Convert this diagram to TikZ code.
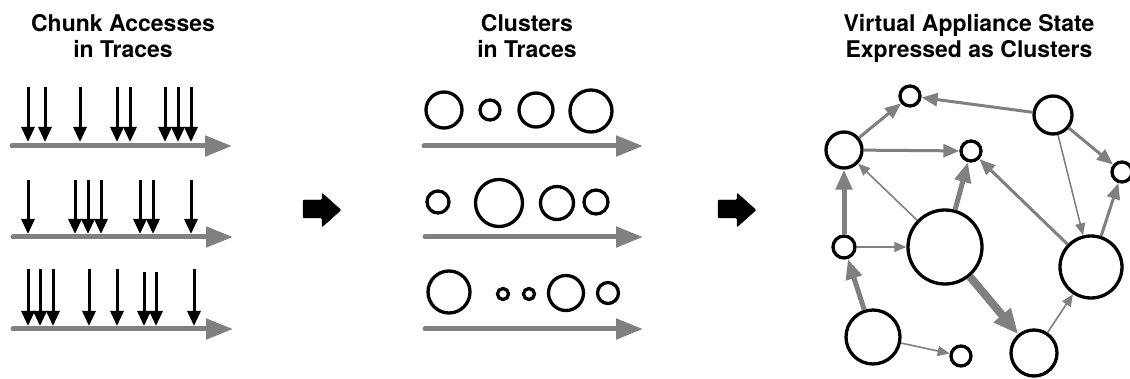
\documentclass[tikz,border=0pt]{standalone}
\usepackage{fontspec}
\setmainfont{TeX Gyre Heros}
\usetikzlibrary{arrows.meta}

\tikzset{
  heading/.style={anchor=north, inner sep=0pt, align=center,
    font=\fontsize{23}{26}\selectfont\bfseries},
  trace/.style={draw=gray, line width=5pt, line cap=round,
    -{Triangle[length=27pt,width=20pt]}},
  access/.style={draw=black, line width=3pt,
    -{Triangle[length=15pt,width=13pt]}},
  cluster/.style={circle, draw=black, line width=3.3pt, inner sep=0pt,
    minimum size=#1},
  edgethin/.style={draw=gray, line width=1.6pt,
    -{Triangle[length=12pt,width=10pt]}},
  edgemid/.style={draw=gray, line width=3pt,
    -{Triangle[length=16pt,width=13pt]}},
  edgethick/.style={draw=gray, line width=5pt,
    -{Triangle[length=20pt,width=16pt]}},
  edgeheavy/.style={draw=gray, line width=8pt,
    -{Triangle[length=25pt,width=21pt]}},
  blockarrow/.style={fill=black, rounded corners=1pt}
}

\begin{document}
\begin{tikzpicture}[x=1pt, y=-1pt]
    \useasboundingbox (0,0) rectangle (1130,379);

    % Headings
    \node (chunkhead) [heading] at (123,14) {Chunk Accesses\\in Traces};
    \node (clusterhead) [heading] at (527,14) {Clusters\\in Traces};
    \node (statehead) [heading] at (969,14) {Virtual Appliance State\\Expressed as Clusters};

    % Drawing trace 1 with chunk accesses
    \coordinate (ta1) at (12,146);
    \coordinate (tb1) at (232,146);
    \draw [trace] (ta1) -- (tb1);
    \draw [access] (28,87) -- (28,142);
    \draw [access] (45,87) -- (45,142);
    \draw [access] (80,87) -- (80,142);
    \draw [access] (117,87) -- (117,142);
    \draw [access] (130,87) -- (130,142);
    \draw [access] (165,87) -- (165,142);
    \draw [access] (178,87) -- (178,142);
    \draw [access] (191,87) -- (191,142);

    % Drawing trace 2 with chunk accesses
    \coordinate (ta2) at (13,237);
    \coordinate (tb2) at (233,237);
    \draw [trace] (ta2) -- (tb2);
    \draw [access] (28,180) -- (28,234);
    \draw [access] (75,180) -- (75,234);
    \draw [access] (88,180) -- (88,234);
    \draw [access] (101,180) -- (101,234);
    \draw [access] (140,180) -- (140,234);
    \draw [access] (153,180) -- (153,234);
    \draw [access] (191,180) -- (191,234);

    % Drawing trace 3 with chunk accesses
    \coordinate (ta3) at (13,329);
    \coordinate (tb3) at (233,329);
    \draw [trace] (ta3) -- (tb3);
    \draw [access] (28,269) -- (28,326);
    \draw [access] (40,269) -- (40,326);
    \draw [access] (53,269) -- (53,326);
    \draw [access] (89,269) -- (89,326);
    \draw [access] (117,269) -- (117,326);
    \draw [access] (144,272) -- (144,326);
    \draw [access] (156,272) -- (156,326);
    \draw [access] (194,269) -- (194,326);

    % Drawing first block arrow
    \draw [blockarrow] (303,200) -- (322,200) -- (322,193) -- (341,210)
        -- (322,227) -- (322,218) -- (303,218) -- cycle;

    % Drawing trace 1 with clusters
    \coordinate (ua1) at (424,146);
    \coordinate (ub1) at (643,146);
    \draw [trace] (ua1) -- (ub1);
    \node (c11) [cluster=36pt] at (444,110) {};
    \node (c12) [cluster=20pt] at (490,110) {};
    \node (c13) [cluster=34pt] at (536,110) {};
    \node (c14) [cluster=42pt] at (591,111) {};

    % Drawing trace 2 with clusters
    \coordinate (ua2) at (425,237);
    \coordinate (ub2) at (643,237);
    \draw [trace] (ua2) -- (ub2);
    \node (c21) [cluster=22pt] at (438,202) {};
    \node (c22) [cluster=47pt] at (499,203) {};
    \node (c23) [cluster=33pt] at (557,203) {};
    \node (c24) [cluster=24pt] at (596,202) {};

    % Drawing trace 3 with clusters
    \coordinate (ua3) at (425,329);
    \coordinate (ub3) at (643,329);
    \draw [trace] (ua3) -- (ub3);
    \node (c31) [cluster=42pt] at (449,292) {};
    \node (c32) [cluster=11pt] at (503,294) {};
    \node (c33) [cluster=11pt] at (529,294) {};
    \node (c34) [cluster=35pt] at (566,293) {};
    \node (c35) [cluster=21pt] at (608,293) {};

    % Drawing second block arrow
    \draw [blockarrow] (718,200) -- (737,200) -- (737,193) -- (756,210)
        -- (737,227) -- (737,218) -- (718,218) -- cycle;

    % Marking the clusters of the state
    \node (sa) [cluster=20pt] at (910,96) {};
    \node (sb) [cluster=38pt] at (1053,115) {};
    \node (sc) [cluster=36pt] at (844,150) {};
    \node (sd) [cluster=20pt] at (971,151) {};
    \node (se) [cluster=20pt] at (1122,172) {};
    \node (sf) [cluster=22pt] at (844,247) {};
    \node (sg) [cluster=74pt] at (945,247) {};
    \node (sh) [cluster=62pt] at (1091,267) {};
    \node (si) [cluster=54pt] at (873,337) {};
    \node (sj) [cluster=20pt] at (961,356) {};
    \node (sk) [cluster=46pt] at (1034,353) {};

    % Drawing the links between clusters
    \draw [edgemid] (sb) -- (sa);
    \draw [edgemid] (sc) -- (sa);
    \draw [edgemid] (sc) -- (sd);
    \draw [edgethin] (sg) -- (sc);
    \draw [edgethick] (sf) -- (sc);
    \draw [edgethin] (sf) -- (sg);
    \draw [edgethick] (sg) -- (sd);
    \draw [edgethick] (si) -- (sf);
    \draw [edgethin] (si) -- (sj);
    \draw [edgeheavy] (sg) -- (sk);
    \draw [edgethin] (sk) -- (sh);
    \draw [edgemid] (sh) -- (sd);
    \draw [edgethin] (sb) -- (sh);
    \draw [edgemid] (sb) -- (se);
    \draw [edgemid] (sh) -- (se);
\end{tikzpicture}
\end{document}
